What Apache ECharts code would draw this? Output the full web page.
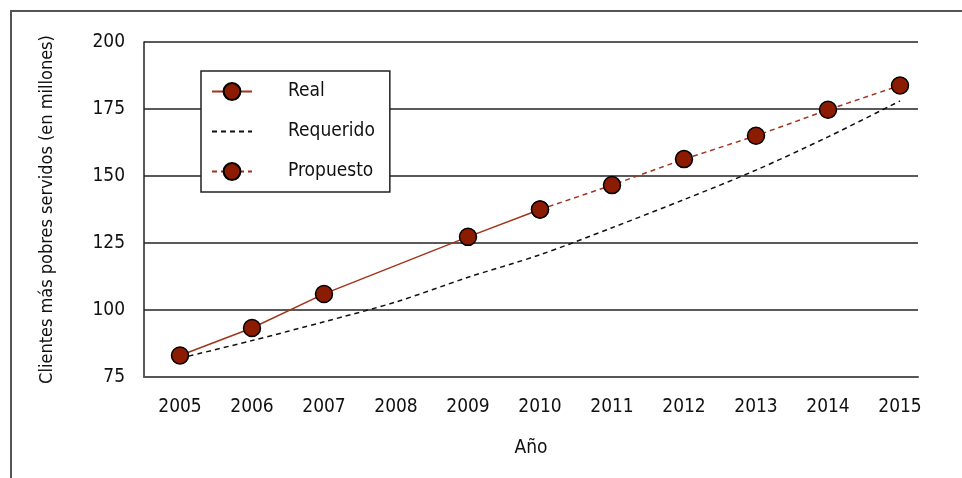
<!DOCTYPE html>
<html>
<head>
<meta charset="utf-8">
<script src="https://cdn.jsdelivr.net/npm/echarts@6/dist/echarts.min.js"></script>
<style>
  html, body { margin: 0; padding: 0; background: #fff; }
  #chart { width: 962px; height: 478px; }
</style>
</head>
<body>
<div id="chart"></div>
<script>
const years = [2005, 2006, 2007, 2008, 2009, 2010, 2011, 2012, 2013, 2014, 2015];
// Real (no 2008 point)
const realYears = [2005, 2006, 2007, 2009, 2010];
const realValues = [83, 93.3, 106, 127.3, 137.5];
// Requerido
const requeridoValues = [82, 88.6, 95.6, 103, 112.2, 120.6, 130.7, 141.2, 152.2, 164.6, 178];
// Propuesto
const propuestoYears = [2010, 2011, 2012, 2013, 2014, 2015];
const propuestoValues = [137.5, 146.6, 156.3, 165, 174.7, 183.8];
const yTicks = [75, 100, 125, 150, 175, 200];

const FONT = "'DejaVu Sans Condensed', 'Liberation Sans Narrow', sans-serif";
const COLORS = {
  DOT: '#8b1c02',
  LINE: '#a1341a',
  TEXT: '#111111',
  GRID: '#222222',
  FRAME: '#555555'
};

const zip = (xs, ys) => xs.map((x, i) => [x, ys[i]]);

const chart = echarts.init(document.getElementById('chart'), null, { renderer: 'canvas' });

chart.setOption({
  animation: false,
  backgroundColor: '#ffffff',
  textStyle: { fontFamily: FONT, color: COLORS.TEXT },
  graphic: [
    { type: 'line', shape: { x1: 10, y1: 11, x2: 962, y2: 11 }, style: { stroke: COLORS.FRAME, lineWidth: 2 } },
    { type: 'line', shape: { x1: 11, y1: 11, x2: 11, y2: 478 }, style: { stroke: COLORS.FRAME, lineWidth: 2 } }
  ],
  grid: { left: 144, right: 44, top: 42, bottom: 101, containLabel: false },
  legend: {
    orient: 'vertical',
    left: 201,
    top: 71,
    padding: [11, 15, 11, 10],
    itemWidth: 40,
    itemHeight: 21,
    itemGap: 21,
    backgroundColor: '#ffffff',
    borderColor: COLORS.GRID,
    borderWidth: 1.5,
    data: [
      { name: 'Real' },
      { name: 'Requerido', itemStyle: { opacity: 0 } },
      { name: 'Propuesto' }
    ],
    textStyle: { fontFamily: FONT, fontSize: 19, color: COLORS.TEXT, padding: [0, 0, 0, 31] }
  },
  xAxis: {
    type: 'value',
    min: 2004.5,
    max: 2015.25,
    name: 'Año',
    nameLocation: 'middle',
    nameGap: 62,
    nameTextStyle: { fontFamily: FONT, fontSize: 19, color: COLORS.TEXT },
    axisLine: { show: true, lineStyle: { color: COLORS.FRAME, width: 2 } },
    axisTick: { show: false },
    splitLine: { show: false },
    axisLabel: {
      customValues: years,
      formatter: v => String(v),
      margin: 21,
      fontFamily: FONT,
      fontSize: 19,
      color: COLORS.TEXT
    }
  },
  yAxis: {
    type: 'value',
    min: 75,
    max: 200,
    interval: 25,
    name: 'Clientes más pobres servidos (en millones)',
    nameLocation: 'middle',
    nameGap: 88,
    nameTextStyle: { fontFamily: FONT, fontSize: 18, color: COLORS.TEXT },
    axisLine: { show: true, lineStyle: { color: COLORS.GRID, width: 1.5 } },
    axisTick: { show: false },
    splitLine: { show: true, lineStyle: { color: COLORS.GRID, width: 1.5 } },
    axisLabel: {
      margin: 19,
      fontFamily: FONT,
      fontSize: 19,
      color: COLORS.TEXT,
      formatter: v => (yTicks.includes(v) ? String(v) : '')
    }
  },
  series: [
    {
      name: 'Requerido',
      type: 'line',
      data: zip(years, requeridoValues),
      smooth: 0.3,
      symbol: 'none',
      lineStyle: { color: '#111111', width: 1.5, type: [5, 4] },
      itemStyle: { color: '#111111' },
      z: 2
    },
    {
      name: 'Real',
      type: 'line',
      data: zip(realYears, realValues),
      symbol: 'circle',
      symbolSize: 17,
      lineStyle: { color: COLORS.LINE, width: 1.5 },
      itemStyle: { color: COLORS.DOT, borderColor: '#000000', borderWidth: 1.5 },
      z: 4
    },
    {
      name: 'Propuesto',
      type: 'line',
      data: zip(propuestoYears, propuestoValues),
      symbol: 'circle',
      symbolSize: 17,
      lineStyle: { color: COLORS.LINE, width: 1.5, type: [5, 4] },
      itemStyle: { color: COLORS.DOT, borderColor: '#000000', borderWidth: 1.5 },
      z: 3
    }
  ]
});
</script>
</body>
</html>
